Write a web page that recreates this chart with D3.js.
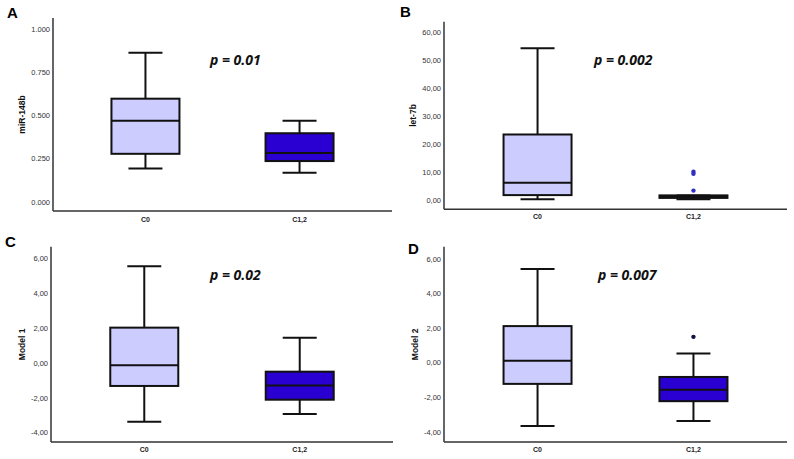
<!DOCTYPE html>
<html>
<head>
<meta charset="utf-8">
<script src="https://cdn.jsdelivr.net/npm/d3@7"></script>
<style>
  body { margin: 0; background: #fff; }
  svg { display: block; }
</style>
</head>
<body>
<div id="chart"></div>
<script>
// categories shared by all four panels
const groups = ["C0", "C1,2"];

// box stats per group: [whisker low, q1, median, q3, whisker high]
const statsA = [[0.194, 0.279, 0.471, 0.598, 0.864], [0.169, 0.237, 0.283, 0.398, 0.471]];
const statsB = [[0.5, 2.0, 6.4, 23.6, 54.3], [0.5, 1.0, 1.4, 1.9, 1.9]];
const statsC = [[-3.35, -1.30, -0.11, 2.05, 5.57], [-2.91, -2.09, -1.27, -0.48, 1.47]];
const statsD = [[-3.65, -1.21, 0.12, 2.13, 5.43], [-3.35, -2.21, -1.55, -0.81, 0.55]];

// outliers (second group only)
const outliersB = [10.3, 9.6, 3.6];
const outliersD = [1.51];

// tick values
const ticksA = [0, 0.25, 0.5, 0.75, 1];
const ticksB = [0, 10, 20, 30, 40, 50, 60];
const ticksCD = [-4, -2, 0, 2, 4, 6];

const fills = ["#ccccff", "#2a00d2"];

const svg = d3.select("#chart").append("svg")
    .attr("width", 794)
    .attr("height", 459);

// layout of each panel (axis box in px, y domain including axis overhang)
const panels = [
    {letter: "A", lx: 7, ly: 18, left: 53, right: 392, top: 18, bottom: 211, dom: [-0.052, 1.065],
     stats: statsA, outliers: [], outColor: "#3030c0", ticks: ticksA, fmt: d3.format(".3f"),
     label: "miR-148b", labelX: 22, p: "p = 0.01", px: 210, py: 65, catY: 222},
    {letter: "B", lx: 400, ly: 17, left: 444, right: 787, top: 21.7, bottom: 209.3, dom: [-3.06, 63.8],
     stats: statsB, outliers: outliersB, outColor: "#3030c0", ticks: ticksB, fmt: d => d3.format(".2f")(d).replace(".", ","),
     label: "let-7b", labelX: 413, p: "p = 0.002", px: 594, py: 65, catY: 219},
    {letter: "C", lx: 5, ly: 247, left: 51, right: 393, top: 246.7, bottom: 442, dom: [-4.52, 6.70],
     stats: statsC, outliers: [], outColor: "#111144", ticks: ticksCD, fmt: d => d3.format(".2f")(d).replace(".", ",").replace("−", "-"),
     label: "Model 1", labelX: 22, p: "p = 0.02", px: 210, py: 280, catY: 452},
    {letter: "D", lx: 408, ly: 254, left: 444, right: 787, top: 246.7, bottom: 442, dom: [-4.57, 6.72],
     stats: statsD, outliers: outliersD, outColor: "#111144", ticks: ticksCD, fmt: d => d3.format(".2f")(d).replace(".", ",").replace("−", "-"),
     label: "Model 2", labelX: 415, p: "p = 0.007", px: 598, py: 280, catY: 452}
];

panels.forEach(pn => {
    const g = svg.append("g");

    const x = d3.scalePoint().domain(groups).range([pn.left, pn.right]).padding(0.6);
    const y = d3.scaleLinear().domain(pn.dom).range([pn.bottom, pn.top]);
    const boxW = 68;

    // panel letter
    g.append("text")
        .attr("x", pn.lx)
        .attr("y", pn.ly)
        .style("font-family", "Liberation Sans, Arial, sans-serif")
        .style("font-weight", "bold")
        .style("font-size", "15px")
        .text(pn.letter);

    // axes lines
    g.append("line")
        .attr("x1", pn.left).attr("x2", pn.left)
        .attr("y1", pn.top).attr("y2", pn.bottom)
        .attr("stroke", "#333").attr("stroke-width", 1.5);
    g.append("line")
        .attr("x1", pn.left).attr("x2", pn.right)
        .attr("y1", pn.bottom).attr("y2", pn.bottom)
        .attr("stroke", "#333").attr("stroke-width", 1.5);

    // y tick labels
    g.selectAll(".tick")
        .data(pn.ticks)
        .enter()
        .append("text")
        .attr("x", pn.left - 3)
        .attr("y", d => y(d) + 2.5)
        .attr("text-anchor", "end")
        .style("font-family", "Liberation Sans, Arial, sans-serif")
        .style("font-size", "7.5px")
        .style("fill", "#333")
        .text(pn.fmt);

    // y axis label
    g.append("text")
        .attr("transform", "translate(" + (pn.labelX + 3) + "," + ((pn.top + pn.bottom) / 2) + ") rotate(-90)")
        .attr("text-anchor", "middle")
        .style("font-family", "Liberation Sans, Arial, sans-serif")
        .style("font-weight", "bold")
        .style("font-size", "8.5px")
        .style("fill", "#111")
        .text(pn.label);

    // category labels
    g.selectAll(".cat")
        .data(groups)
        .enter()
        .append("text")
        .attr("x", d => x(d))
        .attr("y", pn.catY)
        .attr("text-anchor", "middle")
        .style("font-family", "Liberation Sans, Arial, sans-serif")
        .style("font-weight", "bold")
        .style("font-size", "7px")
        .style("fill", "#222")
        .text(d => d);

    // boxes
    pn.stats.forEach((s, i) => {
        const cx = x(groups[i]);
        const bg = g.append("g");
        // whiskers
        bg.append("line")
            .attr("x1", cx).attr("x2", cx)
            .attr("y1", y(s[3])).attr("y2", y(s[4]))
            .attr("stroke", "#111").attr("stroke-width", 2);
        bg.append("line")
            .attr("x1", cx).attr("x2", cx)
            .attr("y1", y(s[0])).attr("y2", y(s[1]))
            .attr("stroke", "#111").attr("stroke-width", 2);
        bg.selectAll(".cap")
            .data([s[0], s[4]])
            .enter()
            .append("line")
            .attr("x1", cx - boxW / 4).attr("x2", cx + boxW / 4)
            .attr("y1", d => y(d)).attr("y2", d => y(d))
            .attr("stroke", "#111").attr("stroke-width", 2);
        // box
        bg.append("rect")
            .attr("x", cx - boxW / 2)
            .attr("y", y(s[3]))
            .attr("width", boxW)
            .attr("height", Math.max(1, y(s[1]) - y(s[3])))
            .attr("fill", fills[i])
            .attr("stroke", "#111")
            .attr("stroke-width", 2);
        // median
        bg.append("line")
            .attr("x1", cx - boxW / 2).attr("x2", cx + boxW / 2)
            .attr("y1", y(s[2])).attr("y2", y(s[2]))
            .attr("stroke", "#111").attr("stroke-width", 2);
    });

    // outliers
    g.selectAll(".out")
        .data(pn.outliers)
        .enter()
        .append("circle")
        .attr("cx", x(groups[1]))
        .attr("cy", d => y(d))
        .attr("r", 2.2)
        .attr("fill", pn.outColor);

    // p value
    g.append("text")
        .attr("x", pn.px)
        .attr("y", pn.py)
        .style("font-family", "Open Sans, sans-serif")
        .style("font-weight", "bold")
        .style("font-style", "italic")
        .style("font-size", "14px")
        .style("fill", "#111")
        .text(pn.p);
});
</script>
</body>
</html>
